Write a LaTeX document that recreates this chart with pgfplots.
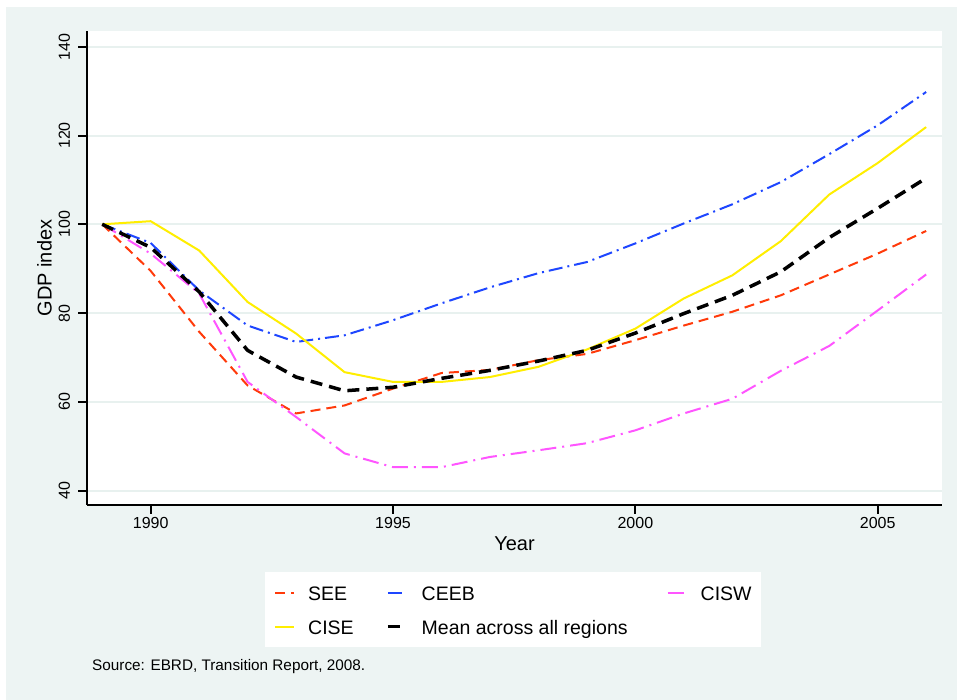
\documentclass[border=0pt]{standalone}
\usepackage{fontspec}
\setmainfont{Liberation Sans}
\usepackage{pgfplots}
\pgfplotsset{compat=1.18}

\definecolor{bgc}{RGB}{237,244,243}
\definecolor{gridc}{RGB}{232,241,239}
\definecolor{seec}{RGB}{255,58,10}
\definecolor{ceebc}{RGB}{30,70,255}
\definecolor{cisec}{RGB}{255,238,0}
\definecolor{ciswc}{RGB}{255,85,255}

\begin{document}
\begin{tikzpicture}[x=1pt,y=1pt]
\path[use as bounding box] (0,0) rectangle (957,700);
\fill[white] (0,0) rectangle (957,700);
\fill[bgc] (6,0) rectangle (957,693);
\begin{axis}[
    at={(87pt,195pt)}, anchor=south west,
    width=855pt, height=474pt, scale only axis,
    xmin=1988.686, xmax=2006.327, ymin=36.78, ymax=143.54,
    axis background/.style={fill=white},
    axis x line*=bottom, axis y line*=left,
    axis line style={-, line width=2pt, black},
    xtick={1990,1995,2000,2005}, ytick={40,60,...,140},
    tick align=outside, major tick length=9pt,
    tick style={line width=2pt, black},
    ymajorgrids, major grid style={gridc, line width=2pt},
    /pgf/number format/1000 sep={},
    /pgf/number format/assume math mode=true,
    ticklabel style={font=\fontsize{16}{19}\selectfont},
    yticklabel style={rotate=90, anchor=south},
    yticklabel shift=4.5pt,
    label style={font=\fontsize{20}{24}\selectfont},
    xlabel={Year},
    xlabel style={at={(axis description cs:0.5,-0.0675)}, anchor=north, inner sep=0pt},
    ylabel={GDP index},
    ylabel style={at={(axis description cs:-0.0409,0.5)}, anchor=south, inner sep=0pt},
    no markers,
    every axis plot/.append style={line join=round},
    legend columns=3,
    legend cell align=left,
    legend image code/.code={\draw[#1] (0pt,0pt) -- (19pt,0pt);},
    legend style={at={(axis description cs:0.2082,-0.1414)}, anchor=north west,
        draw=none, fill=white, inner xsep=9pt, inner ysep=10pt, row sep=13pt,
        font=\fontsize{19.5}{23}\selectfont,
        nodes={inner sep=0pt, text height=18pt, text depth=3pt},
        /tikz/every odd column/.append style={column sep=13pt}},
]
% SEE
\addplot[seec, line width=2pt, dash pattern=on 10pt off 6pt] coordinates {
(1989,100) (1990,89.5) (1991,75.8) (1992,63.7) (1993,57.4) (1994,59.2)
(1995,63.0) (1996,66.5) (1997,67.2) (1998,69.4) (1999,70.8) (2000,73.9)
(2001,77.2) (2002,80.3) (2003,84.0) (2004,88.7) (2005,93.4) (2006,98.5)};
\addlegendentry{\makebox[78pt][l]{SEE}}
% CEEB
\addplot[ceebc, line width=2pt, dash pattern=on 14pt off 5pt on 2pt off 5pt] coordinates {
(1989,100) (1990,95.8) (1991,85.1) (1992,77.2) (1993,73.5) (1994,75.0)
(1995,78.4) (1996,82.2) (1997,85.8) (1998,89.0) (1999,91.5) (2000,95.7)
(2001,100.2) (2002,104.5) (2003,109.5) (2004,115.8) (2005,122.3) (2006,129.8)};
\addlegendentry{\makebox[245pt][l]{CEEB}}
% CISW
\addplot[ciswc, line width=2pt, dash pattern=on 16pt off 6pt on 2pt off 6pt] coordinates {
(1989,100) (1990,93.4) (1991,84.4) (1992,64.5) (1993,56.6) (1994,48.4)
(1995,45.3) (1996,45.3) (1997,47.6) (1998,49.1) (1999,50.7) (2000,53.6)
(2001,57.4) (2002,60.7) (2003,67.0) (2004,72.6) (2005,80.6) (2006,88.7)};
\addlegendentry{CISW}
% CISE
\addplot[cisec, line width=2pt] coordinates {
(1989,100) (1990,100.7) (1991,94.1) (1992,82.5) (1993,75.4) (1994,66.7)
(1995,64.5) (1996,64.5) (1997,65.6) (1998,67.9) (1999,71.8) (2000,76.5)
(2001,83.3) (2002,88.5) (2003,96.2) (2004,106.7) (2005,113.8) (2006,121.9)};
\addlegendentry{CISE}
% mean across all regions
\addplot[black, line width=3.5pt, dash pattern=on 12pt off 7pt] coordinates {
(1989,100) (1990,94.8) (1991,84.8) (1992,71.6) (1993,65.6) (1994,62.5)
(1995,63.3) (1996,65.3) (1997,67.1) (1998,69.2) (1999,71.6) (2000,75.5)
(2001,79.9) (2002,84.0) (2003,89.3) (2004,97.0) (2005,103.6) (2006,110.4)};
\addlegendentry{Mean across all regions}
\end{axis}
\node[anchor=base west, inner sep=0pt, font=\fontsize{15.3}{18}\selectfont]
    at (92,29.3) {Source: EBRD, Transition Report, 2008.};
\end{tikzpicture}
\end{document}
